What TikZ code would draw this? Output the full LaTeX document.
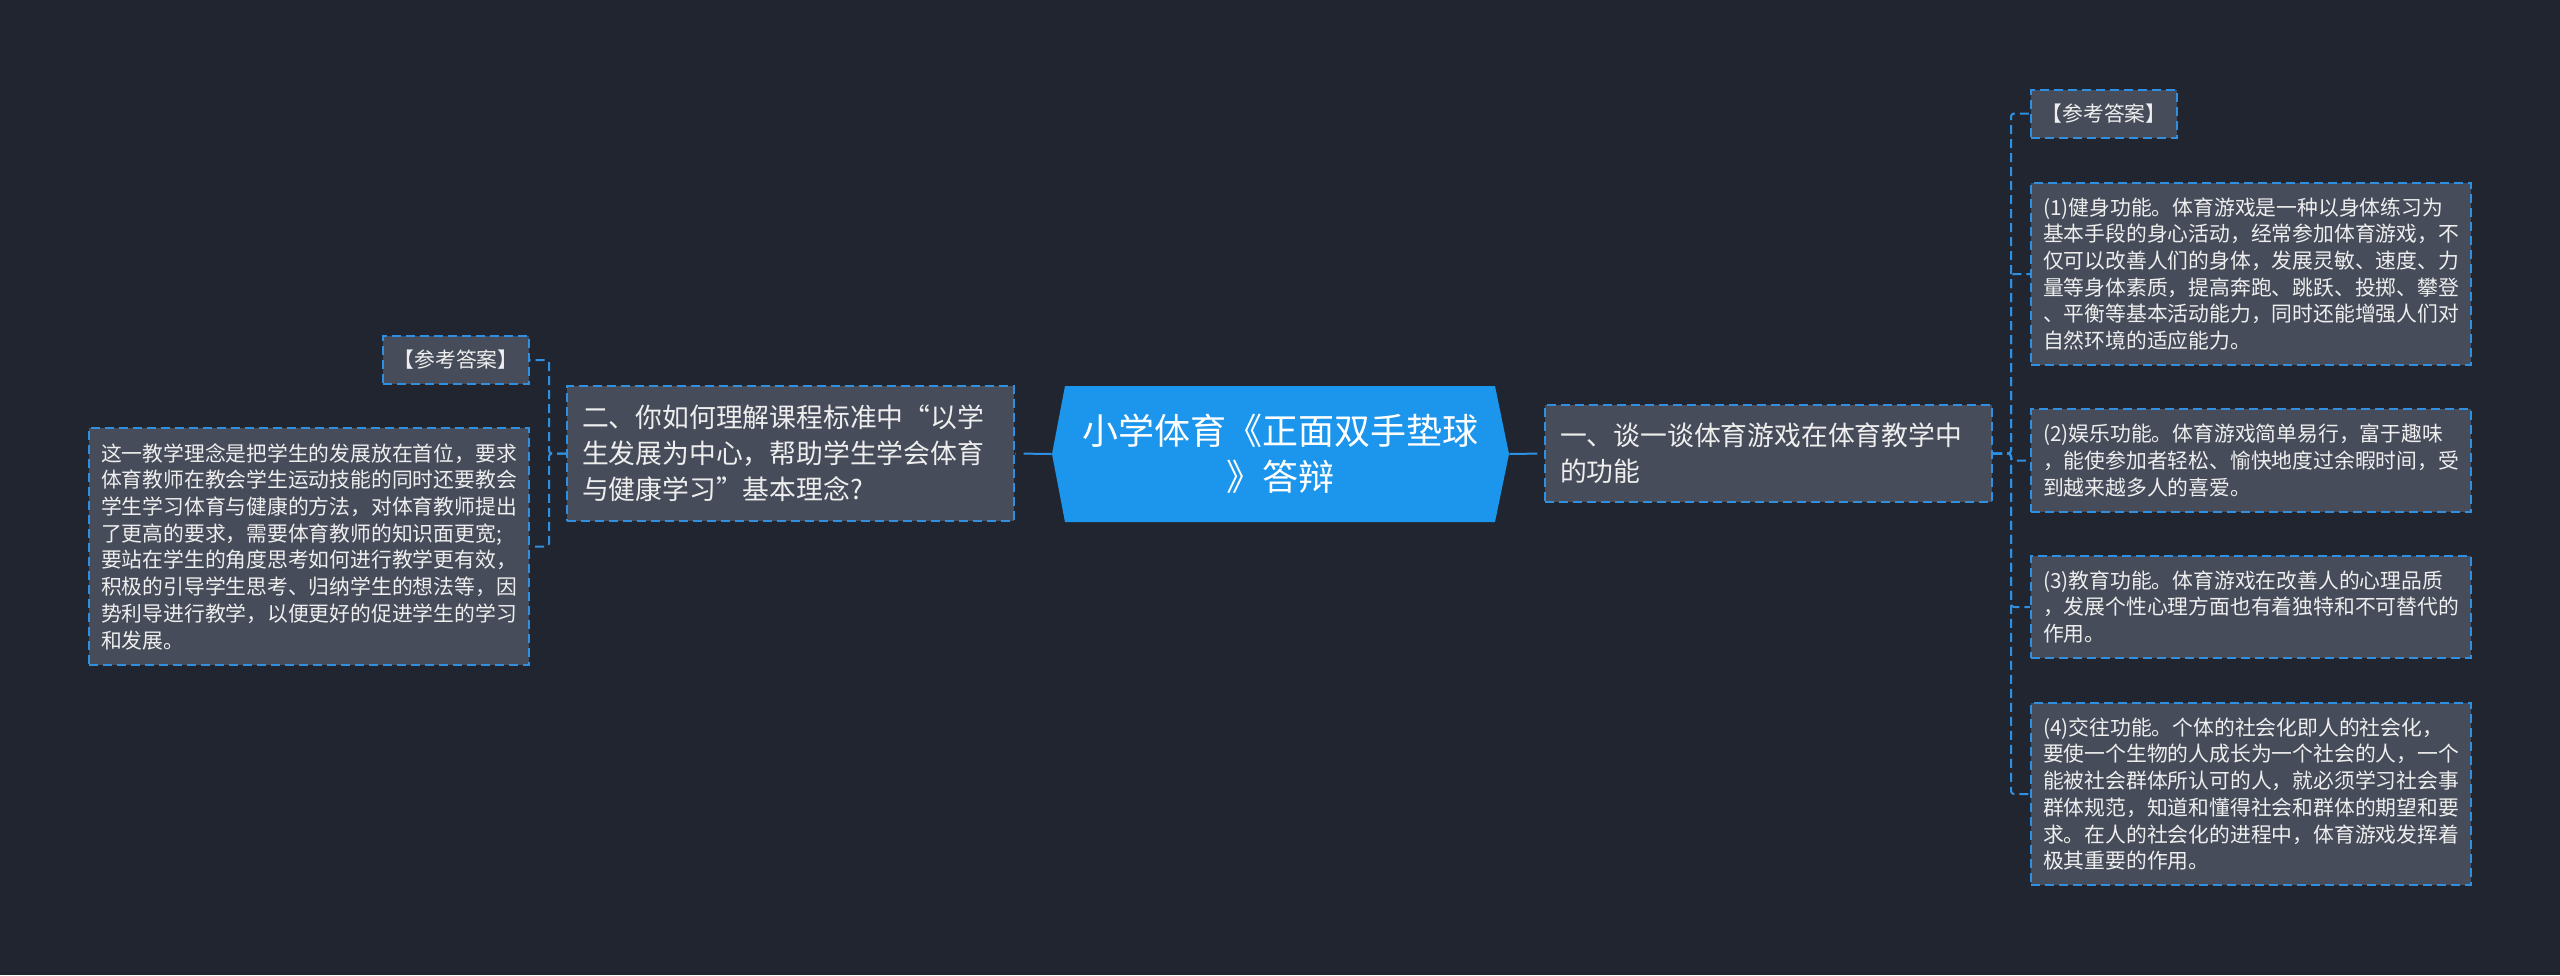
\documentclass[tikz,border=0pt]{standalone}
\usepackage{fontspec}
\setmainfont{Noto Sans CJK SC}
\definecolor{bg}{HTML}{21252F}
\definecolor{boxfill}{HTML}{474C5A}
\definecolor{bdr}{HTML}{2F8FE0}
\definecolor{rootfill}{HTML}{1C95EC}
\definecolor{txt}{HTML}{EEEEEE}
\begin{document}
\begin{tikzpicture}[x=0.5pt,y=-0.5pt,
  conn/.style={draw=bdr, line width=1pt, dash pattern=on 4.5pt off 2.5pt, rounded corners=1.5pt},
  rootconn/.style={draw=bdr, line width=1pt, dash pattern=on 14pt off 4pt},
  boxbase/.style={draw=bdr, fill=boxfill, line width=1pt, dash pattern=on 4.5pt off 2.5pt, text=txt, inner ysep=0pt},
  smallbox/.style={boxbase, inner xsep=6pt, align=left, text width=208pt, minimum width=220pt, font=\fontsize{10.4pt}{13.35pt}\selectfont},
  refbox/.style={boxbase, inner xsep=0pt, align=center, minimum width=73pt, minimum height=24pt, font=\fontsize{10.4pt}{13.35pt}\selectfont},
  midbox/.style={boxbase, inner xsep=7.5pt, align=left, text width=208.5pt, minimum width=223.5pt, font=\fontsize{13.4pt}{18pt}\selectfont},
  rootbox/.style={inner sep=0pt, align=center, text=white, minimum width=228.5pt, minimum height=68pt, font=\fontsize{18pt}{23pt}\selectfont}
]
\fill[bg] (0,0) rectangle (2560,975);
\path[use as bounding box] (0,0) rectangle (2560,975);

% root
\fill[rootfill] (1065,386) -- (1495,386) -- (1509,454) -- (1495,522) -- (1065,522) -- (1052,454) -- cycle;
\node[rootbox] (root) at (1280.5,454) {小学体育《正面双手垫球\\》答辩};

% left side
\node[midbox, minimum height=67.5pt] (er) at (790.5,453.5) {二、你如何理解课程标准中“以学\\生发展为中心，帮助学生学会体育\\与健康学习”基本理念?};
\node[refbox] (lref) at (456,360) {【参考答案】};
\node[smallbox, minimum height=118.5pt] (lans) at (309,546.5) {这一教学理念是把学生的发展放在首位，要求\\体育教师在教会学生运动技能的同时还要教会\\学生学习体育与健康的方法，对体育教师提出\\了更高的要求，需要体育教师的知识面更宽;\\要站在学生的角度思考如何进行教学更有效，\\积极的引导学生思考、归纳学生的想法等，因\\势利导进行教学，以便更好的促进学生的学习\\和发展。};

% right side
\node[midbox, minimum height=48.5pt] (yi) at (1768.5,453.5) {一、谈一谈体育游戏在体育教学中\\的功能};
\node[refbox] (rref) at (2104,113.5) {【参考答案】};
\node[smallbox, minimum height=91pt] (r1) at (2251,274) {(1)健身功能。体育游戏是一种以身体练习为\\基本手段的身心活动，经常参加体育游戏，不\\仅可以改善人们的身体，发展灵敏、速度、力\\量等身体素质，提高奔跑、跳跃、投掷、攀登\\、平衡等基本活动能力，同时还能增强人们对\\自然环境的适应能力。};
\node[smallbox, minimum height=51.5pt] (r2) at (2251,460.5) {(2)娱乐功能。体育游戏简单易行，富于趣味\\，能使参加者轻松、愉快地度过余暇时间，受\\到越来越多人的喜爱。};
\node[smallbox, minimum height=51pt] (r3) at (2251,607) {(3)教育功能。体育游戏在改善人的心理品质\\，发展个性心理方面也有着独特和不可替代的\\作用。};
\node[smallbox, minimum height=91pt] (r4) at (2251,794) {(4)交往功能。个体的社会化即人的社会化，\\要使一个生物的人成长为一个社会的人，一个\\能被社会群体所认可的人，就必须学习社会事\\群体规范，知道和懂得社会和群体的期望和要\\求。在人的社会化的进程中，体育游戏发挥着\\极其重要的作用。};

% trunk coordinates
\coordinate (lt) at (549,453.5);
\coordinate (rt) at (2011,453.5);

% connectors
\draw[rootconn] (root.west) -- (er.east);
\draw[rootconn] (root.east) -- (yi.west);
\draw[conn] (er.west) -- (lt) |- (lref.east);
\draw[conn] (er.west) -- (lt) |- (lans.east);
\draw[conn] (yi.east) -- (rt) |- (rref.west);
\draw[conn] (yi.east) -- (rt) |- (r1.west);
\draw[conn] (yi.east) -- (rt) |- (r2.west);
\draw[conn] (yi.east) -- (rt) |- (r3.west);
\draw[conn] (yi.east) -- (rt) |- (r4.west);
\end{tikzpicture}
\end{document}
